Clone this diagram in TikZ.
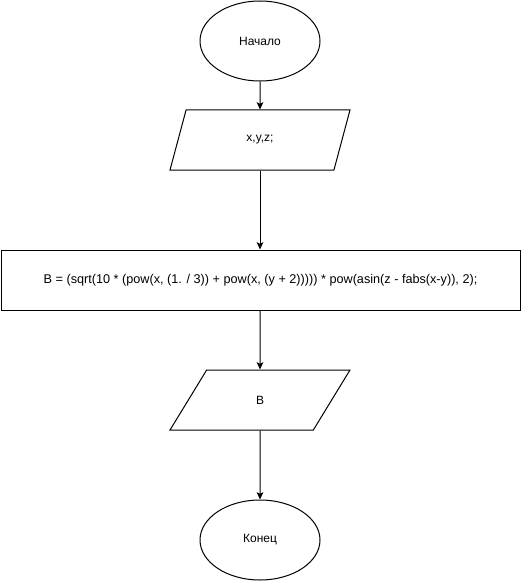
\documentclass[tikz,border=0pt]{standalone}
\usepackage{fontspec}
\setmainfont{Liberation Sans}
\usetikzlibrary{arrows.meta, shapes.geometric}

\begin{document}
\begin{tikzpicture}[
  x=0.75pt, y=-0.75pt, line width=0.75pt,
  >={Stealth[length=5.5pt, width=5pt, inset=1.2pt]},
  font=\fontsize{9}{11}\selectfont,
  term/.style = {draw, ellipse, minimum width=90pt, minimum height=60pt, inner sep=0pt},
  io/.style   = {draw, trapezium, trapezium left angle=71.57, trapezium right angle=108.43,
                 trapezium stretches=true, minimum width=135pt, minimum height=45pt, inner sep=0pt},
  proc/.style = {draw, rectangle, minimum width=389.25pt, minimum height=45pt, inner sep=0pt,
                 font=\fontsize{9.5}{11}\selectfont},
]
\useasboundingbox (0,0) rectangle (521,581);

%── Nodes ─────────────────────────────────────────────────────────────────────
\node[term] (start)  at (260,   41) {Начало};
\node[io]   (input)  at (260,  140) {x,y,z;};
\node[proc] (calc)   at (260.5,280) {B = (sqrt(10 * (pow(x, (1. / 3)) + pow(x, (y + 2))))) * pow(asin(z - fabs(x-y)), 2);};
\node[io]   (output) at (260,  400) {B};
\node[term] (finish) at (260,  540) {Конец};

%── Flow ──────────────────────────────────────────────────────────────────────
\draw[->] (start.south)  -- (input.north);
\draw[->] (input.south)  -- (input.south |- calc.north);
\draw[->] (input.south |- calc.south) -- (output.north);
\draw[->] (output.south) -- (finish.north);

\end{tikzpicture}
\end{document}
